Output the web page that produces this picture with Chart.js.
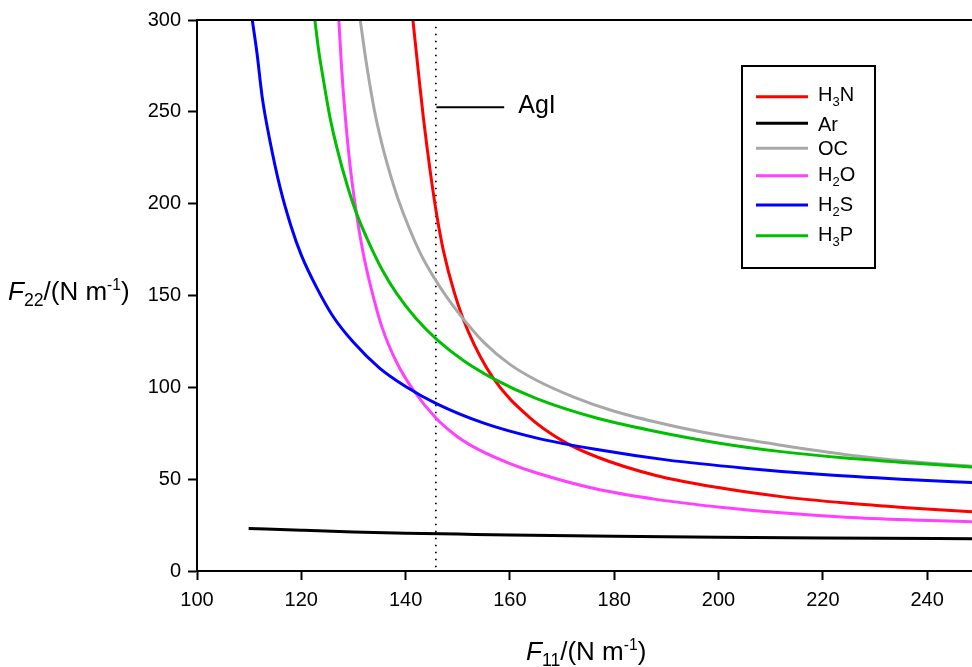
<!DOCTYPE html>
<html><head><meta charset="utf-8">
<script src="https://cdn.jsdelivr.net/npm/chart.js@4.4.1/dist/chart.umd.min.js"></script>
<style>html,body{margin:0;padding:0;background:#fff;}#wrap{width:972px;height:667px;position:relative;}</style>
</head><body><div id="wrap"><canvas id="c" width="972" height="667"></canvas></div>
<script>
// ---- data ----
const seriesNames = ['H_3N', 'Ar', 'OC', 'H_2O', 'H_2S', 'H_3P'];
const seriesColors = ['#ff0000', '#000000', '#a8a8a8', '#ff40ff', '#0000ff', '#00bf00'];

const xH3N = [141.4, 142.4, 143.4, 144.7, 145.9, 147.2, 149.4, 152.0, 156.8, 163.8, 170.0, 176.6, 188.0, 200.8, 212.0, 224.4, 236.0, 250.0];
const yH3N = [300, 273, 247, 218, 195, 175, 151, 130.5, 105, 83.5, 71, 62.2, 52, 45, 40.5, 37, 34.5, 32];

const xAr = [109.9, 120, 130, 140, 150, 160, 180, 200, 220, 250];
const yAr = [23.2, 22.2, 21.3, 20.6, 20.1, 19.6, 18.9, 18.4, 18.0, 17.6];

const xOC = [131.3, 132.5, 134.0, 135.5, 137.0, 138.5, 140.5, 143.0, 145.5, 147.8, 150.7, 155, 160, 165, 172, 180, 190, 200, 212, 227, 240, 250];
const yOC = [300, 276, 251, 232, 216.5, 203, 188, 172, 159.5, 149.5, 138.5, 124.5, 112.5, 104, 95, 87, 79.8, 74, 68.5, 62.5, 58.8, 56.8];

const xH2O = [127.2, 127.7, 128.3, 129.3, 130.5, 131.8, 133.3, 135.5, 138.3, 141.5, 145.9, 150.0, 154.2, 160, 165.0, 176.6, 188.0, 200.8, 212, 224.4, 237, 250.0];
const yH2O = [300, 275, 252, 222, 196, 174, 155, 132.5, 113.5, 98.4, 83, 73, 65.8, 58.5, 53.5, 44.6, 39, 34.6, 31.7, 29.3, 27.8, 26.7];

const xH2S = [110.6, 111.5, 112.5, 114, 116, 118, 120, 123, 126, 130, 135, 140, 146, 155, 165, 177, 190, 205, 220, 235, 250];
const yH2S = [300, 282, 258, 234, 208, 188, 172, 154, 139, 124.5, 110.5, 100.5, 91, 80.5, 72.5, 66, 60.5, 56, 52.5, 50, 48];

const xH3P = [122.6, 123.3, 124.2, 125.5, 127, 128.8, 130.5, 133, 135.5, 138.3, 142, 146, 151, 157, 165, 176.6, 188, 200.2, 212, 224.4, 237, 250];
const yH3P = [300, 284, 268, 247, 228.5, 210, 195.4, 178.5, 164, 151, 137.5, 126, 114.8, 104.5, 94, 83.3, 76, 69.6, 65, 61.5, 58.8, 56.3];

// AgI marker
const agiX = [145.8, 145.8];
const agiY = [2, 298];
const agiPointerX = [145.9, 158.9];
const agiPointerY = [252.5, 252.5];
const agiLabel = 'AgI';
const agiLabelPos = [161.6, 252.5];

const xTicksStep = 20, xMin = 100, xMax = 248.6;
const yTicksStep = 50, yMin = 0, yMax = 300;

const xTitle = [{t:'F', it:true}, {t:'11', sub:true}, {t:'/(N m'}, {t:'-1', sup:true}, {t:')'}];
const yTitle = [{t:'F', it:true}, {t:'22', sub:true}, {t:'/(N m'}, {t:'-1', sup:true}, {t:')'}];

// ---- build ----
const FAM = '"Liberation Sans", Arial, sans-serif';
const xs = [xH3N, xAr, xOC, xH2O, xH2S, xH3P];
const ys = [yH3N, yAr, yOC, yH2O, yH2S, yH3P];
const toPts = (a, b) => a.map((v, i) => ({x: v, y: b[i]}));

const datasets = seriesNames.map((n, i) => ({
  label: n.replace('_', ''),
  data: toPts(xs[i], ys[i]),
  borderColor: seriesColors[i],
  borderWidth: 3,
  pointRadius: 0,
  fill: false,
  cubicInterpolationMode: 'monotone',
  order: 10 - i
}));
datasets.push({label: 'AgI line', data: toPts(agiX, agiY), borderColor: '#000', borderWidth: 1.7, borderDash: [1.7, 5.3], pointRadius: 0, order: 20});
datasets.push({label: 'AgI pointer', data: toPts(agiPointerX, agiPointerY), borderColor: '#000', borderWidth: 2, pointRadius: 0, order: 20});

function parseSub(s) {
  const out = []; let i = 0;
  while (i < s.length) {
    if (s[i] === '_') { out.push({t: s[i + 1], sub: true}); i += 2; }
    else { let j = i; while (j < s.length && s[j] !== '_') j++; out.push({t: s.slice(i, j)}); i = j; }
  }
  return out;
}
function drawRich(ctx, parts, x, y, size, subF, subDy, supF, supDy) {
  let cx = x;
  for (const p of parts) {
    let fs = size, dy = 0;
    if (p.sub) { fs = size * subF; dy = subDy; }
    if (p.sup) { fs = size * supF; dy = supDy; }
    ctx.font = (p.it ? 'italic ' : '') + fs + 'px ' + FAM;
    ctx.fillText(p.t, cx, y + dy);
    cx += ctx.measureText(p.t).width;
  }
  return cx - x;
}

const deco = {
  id: 'deco',
  afterDraw(chart) {
    const ctx = chart.ctx, a = chart.chartArea;
    const sx = chart.scales.x, sy = chart.scales.y;
    ctx.save();
    // top frame line
    ctx.strokeStyle = '#000'; ctx.lineWidth = 2;
    ctx.beginPath(); ctx.moveTo(a.left - 1, a.top); ctx.lineTo(a.right, a.top); ctx.stroke();
    ctx.fillStyle = '#000';
    ctx.textBaseline = 'alphabetic'; ctx.textAlign = 'left';
    // axis titles
    drawRich(ctx, yTitle, 8, 300, 26, 0.68, 6, 0.6, -10);
    drawRich(ctx, xTitle, 526, 660, 26, 0.68, 6, 0.6, -10);
    // AgI label
    ctx.font = '25px ' + FAM; ctx.textBaseline = 'middle';
    ctx.fillText(agiLabel, sx.getPixelForValue(agiLabelPos[0]), sy.getPixelForValue(agiLabelPos[1]) - 1);
    // legend
    ctx.lineWidth = 2; ctx.strokeStyle = '#000';
    ctx.strokeRect(742, 66, 133, 202);
    const rowLine = [96.7, 123.3, 148.3, 175.7, 205, 235.7];
    const rowBase = [100.7, 130.7, 155, 180.7, 210.7, 240.7];
    ctx.textBaseline = 'alphabetic';
    seriesNames.forEach((n, i) => {
      ctx.strokeStyle = seriesColors[i]; ctx.lineWidth = 3;
      ctx.beginPath(); ctx.moveTo(756, rowLine[i]); ctx.lineTo(808, rowLine[i]); ctx.stroke();
      ctx.fillStyle = '#000';
      drawRich(ctx, parseSub(n), 818, rowBase[i], 20, 0.65, 5, 0.6, -8);
    });
    ctx.restore();
  }
};

const tickFont = {size: 20, family: FAM};
new Chart(document.getElementById('c'), {
  type: 'line',
  data: {datasets},
  options: {
    responsive: false, animation: false, devicePixelRatio: 1,
    layout: {padding: {top: 20, left: 0, right: 0, bottom: 0}},
    plugins: {legend: {display: false}, tooltip: {enabled: false}},
    scales: {
      x: {
        type: 'linear', min: xMin, max: xMax,
        ticks: {stepSize: xTicksStep, includeBounds: false, font: tickFont, color: '#000', padding: 8, maxRotation: 0, autoSkip: false},
        grid: {display: true, drawOnChartArea: false, drawTicks: true, tickLength: 9, tickWidth: 2, tickColor: '#000'},
        border: {display: true, color: '#000', width: 2},
        afterFit(s) { s.height = 96; }
      },
      y: {
        type: 'linear', min: yMin, max: yMax,
        ticks: {stepSize: yTicksStep, font: tickFont, color: '#000', padding: 7},
        grid: {display: true, drawOnChartArea: false, drawTicks: true, tickLength: 9, tickWidth: 2, tickColor: '#000'},
        border: {display: true, color: '#000', width: 2},
        afterFit(s) { s.width = 197; }
      }
    }
  },
  plugins: [deco]
});
</script></body></html>
